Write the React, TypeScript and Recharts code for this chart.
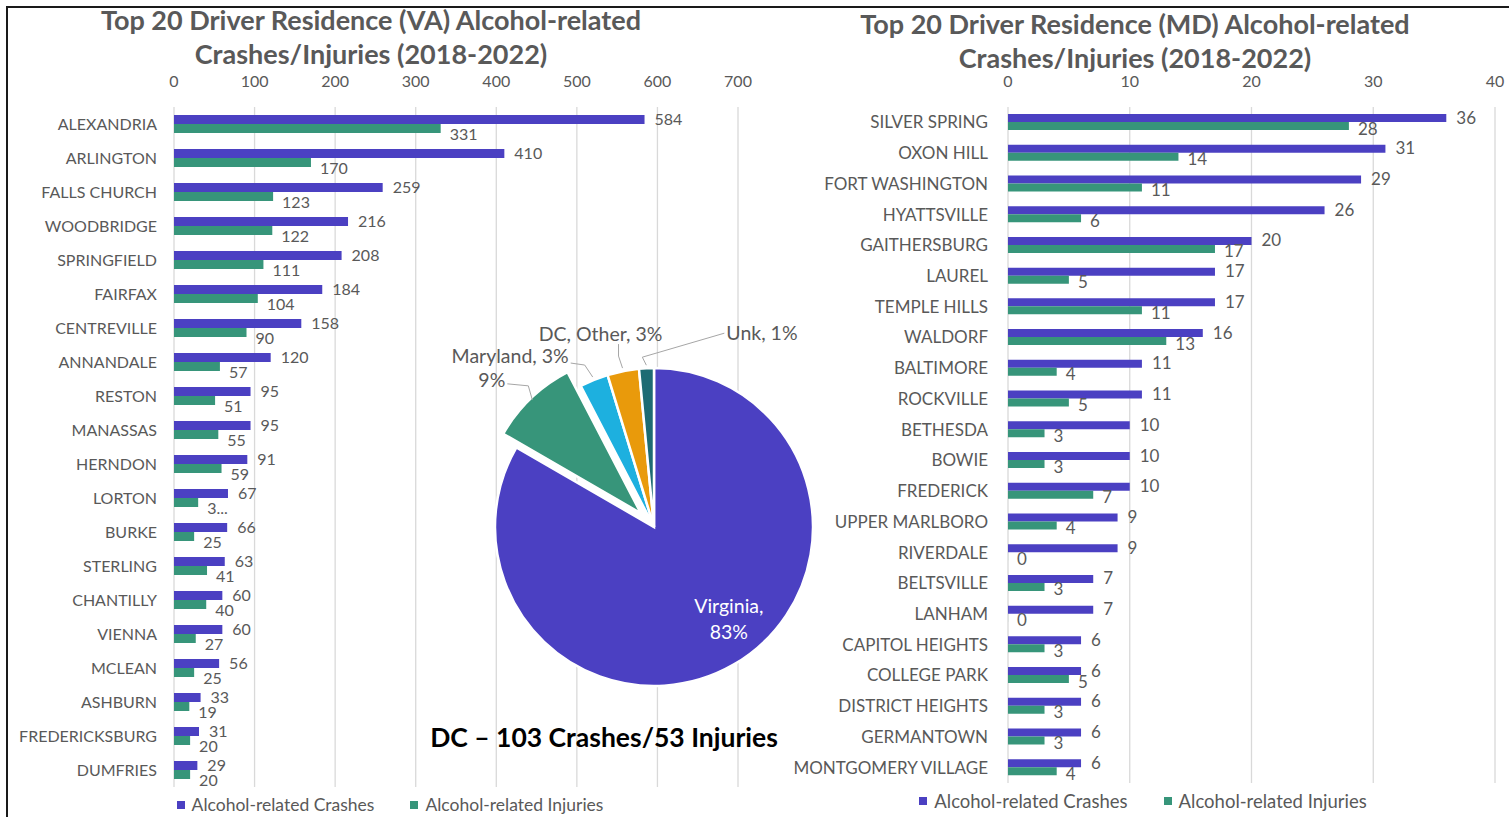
import React from 'react';
import { BarChart, Bar, XAxis, YAxis, CartesianGrid, Legend, LabelList, PieChart, Pie, Cell } from 'recharts';

const FONT = 'Lato, "Open Sans", sans-serif';
const GRAY = '#595959';
const CRASH = '#4B40C2';
const INJURY = '#37957A';
const GRID = '#D9D9D9';

// ---- Virginia (left chart) ----
const vaCities = ['ALEXANDRIA', 'ARLINGTON', 'FALLS CHURCH', 'WOODBRIDGE', 'SPRINGFIELD', 'FAIRFAX', 'CENTREVILLE', 'ANNANDALE', 'RESTON', 'MANASSAS', 'HERNDON', 'LORTON', 'BURKE', 'STERLING', 'CHANTILLY', 'VIENNA', 'MCLEAN', 'ASHBURN', 'FREDERICKSBURG', 'DUMFRIES'];
const vaCrashes = [584, 410, 259, 216, 208, 184, 158, 120, 95, 95, 91, 67, 66, 63, 60, 60, 56, 33, 31, 29];
const vaInjuries = [331, 170, 123, 122, 111, 104, 90, 57, 51, 55, 59, 30, 25, 41, 40, 27, 25, 19, 20, 20];
const vaInjuryLabelText = ['331', '170', '123', '122', '111', '104', '90', '57', '51', '55', '59', '3...', '25', '41', '40', '27', '25', '19', '20', '20'];
const vaTicks = [0, 100, 200, 300, 400, 500, 600, 700];

// ---- Maryland (right chart) ----
const mdCities = ['SILVER SPRING', 'OXON HILL', 'FORT WASHINGTON', 'HYATTSVILLE', 'GAITHERSBURG', 'LAUREL', 'TEMPLE HILLS', 'WALDORF', 'BALTIMORE', 'ROCKVILLE', 'BETHESDA', 'BOWIE', 'FREDERICK', 'UPPER MARLBORO', 'RIVERDALE', 'BELTSVILLE', 'LANHAM', 'CAPITOL HEIGHTS', 'COLLEGE PARK', 'DISTRICT HEIGHTS', 'GERMANTOWN', 'MONTGOMERY VILLAGE'];
const mdCrashes = [36, 31, 29, 26, 20, 17, 17, 16, 11, 11, 10, 10, 10, 9, 9, 7, 7, 6, 6, 6, 6, 6];
const mdInjuries = [28, 14, 11, 6, 17, 5, 11, 13, 4, 5, 3, 3, 7, 4, 0, 3, 0, 3, 5, 3, 3, 4];
const mdTicks = [0, 10, 20, 30, 40];

// ---- Pie ----
const pieNames = ['Virginia', 'Maryland', 'Other', 'DC, Other', 'Unk'];
const pieValues = [83, 9, 2.9, 3.2, 1.5];
const pieColors = ['#4B40C2', '#37957A', '#1DB0DF', '#E99A0B', '#1D6B73'];
const pieLabelLines = [['Virginia,', '83%'], ['9%'], ['Maryland, 3%'], ['DC, Other, 3%'], ['Unk, 1%']];

const seriesNames = ['Alcohol-related Crashes', 'Alcohol-related Injuries'];
const vaTitle = ['Top 20 Driver Residence (VA) Alcohol-related', 'Crashes/Injuries (2018-2022)'];
const mdTitle = ['Top 20 Driver Residence (MD) Alcohol-related', 'Crashes/Injuries (2018-2022)'];
const dcNote = 'DC \u2013 103 Crashes/53 Injuries';

const vaData = vaCities.map((city, i) => ({ city, crashes: vaCrashes[i], injuries: vaInjuries[i], injLabel: vaInjuryLabelText[i] }));
const mdData = mdCities.map((city, i) => ({ city, crashes: mdCrashes[i], injuries: mdInjuries[i], injLabel: String(mdInjuries[i]) }));
const pieData = pieNames.map((name, i) => ({ name, value: pieValues[i] }));

const makeBarLabel = (dx: number, dy: number, fontSize: number) => (props: any) => {
  const vb = props.viewBox && props.viewBox.width !== undefined ? props.viewBox : props;
  const { x, y, width, height } = vb;
  return (
    <text x={x + (width || 0) + dx} y={y + height / 2 + dy} fill={GRAY} fontSize={fontSize} fontFamily={FONT} dominantBaseline="central" textAnchor="start">
      {String(props.value)}
    </text>
  );
};

const legendContent = (gap: number, fontSize: number) => (props: any) => {
  const payload = props.payload || [];
  return (
    <div style={{ display: 'flex', justifyContent: 'center', gap, fontFamily: FONT, fontSize, color: GRAY, lineHeight: '20px' }}>
      {payload.map((p: any, i: number) => (
        <div key={i} style={{ display: 'flex', alignItems: 'center' }}>
          <span style={{ display: 'inline-block', width: 8, height: 8, background: p.color, marginRight: 7 }} />
          <span>{p.value}</span>
        </div>
      ))}
    </div>
  );
};

type HBarProps = {
  data: any[];
  left: number;
  width: number;
  height: number;
  margin: { top: number; right: number; bottom: number; left: number };
  ticks: number[];
  yWidth: number;
  yFont: number;
  yMargin: number;
  labelFont: number;
  injDy: number;
  legendFont: number;
  barSize: number;
  legendLeft: number;
  legendWidth: number;
  legendTop: number;
};

function HBar({ data, left, width, height, margin, ticks, yWidth, yFont, yMargin, labelFont, injDy, legendFont, barSize, legendLeft, legendWidth, legendTop }: HBarProps) {
  const tickStyle = { fill: GRAY, fontSize: 16, fontFamily: FONT };
  return (
    <div style={{ position: 'absolute', left, top: 0 }}>
      <BarChart width={width} height={height} data={data} layout="vertical" margin={margin} barGap={0} barCategoryGap={0}>
        <CartesianGrid horizontal={false} vertical stroke={GRID} strokeWidth={1.3} />
        <XAxis type="number" orientation="top" domain={[ticks[0], ticks[ticks.length - 1]]} ticks={ticks} interval={0} tickLine={false} axisLine={false} tickSize={0} tickMargin={20} height={30} tick={tickStyle} />
        <YAxis type="category" dataKey="city" width={yWidth} interval={0} tickLine={false} axisLine={false} tickSize={0} tickMargin={yMargin} tick={{ ...tickStyle, fontSize: yFont }} />
        <Legend verticalAlign="middle" align="center" layout="horizontal" wrapperStyle={{ top: legendTop, left: legendLeft, width: legendWidth }} content={legendContent(36, legendFont)} />
        <Bar dataKey="crashes" name={seriesNames[0]} fill={CRASH} barSize={barSize} isAnimationActive={false}>
          <LabelList dataKey="crashes" content={makeBarLabel(10, -1, labelFont)} />
        </Bar>
        <Bar dataKey="injuries" name={seriesNames[1]} fill={INJURY} barSize={barSize} minPointSize={0.05} isAnimationActive={false}>
          <LabelList dataKey="injLabel" content={makeBarLabel(9, injDy, labelFont)} />
        </Bar>
      </BarChart>
    </div>
  );
}

// label placement (style only): leader polyline offsets & text offsets
const pieLabelCfg: any[] = [
  { inside: true, r: 0.74, dx: 16, dy: -12 },
  { r0: -2, d1: [-4, -14], d2: [-21, -2], t: [-2, -4], anchor: 'end' },
  { r0: 3, d1: [-8, -12], d2: [-14, -2], t: [-2, -8], anchor: 'end' },
  { r0: 3, d1: [-4, -12], d2: [0, -12], t: [-18, -11], anchor: 'middle' },
  { r0: 3, d1: [-4, -8], d2: [82, -24], t: [2, -1], anchor: 'start' },
];
const PIE_FONT = 19.5;

const makePieLabel = (visible: number[]) => (props: any) => {
  const { cx, cy, midAngle, outerRadius, index } = props;
  if (!visible.includes(index)) return null;
  const cfg = pieLabelCfg[index];
  const RAD = Math.PI / 180;
  const pt = (r: number) => [cx + r * Math.cos(-midAngle * RAD), cy + r * Math.sin(-midAngle * RAD)];
  const lines = pieLabelLines[index];
  if (cfg.inside) {
    const [x, y] = pt(outerRadius * cfg.r);
    return (
      <text x={x + cfg.dx} y={y + cfg.dy} fill="#ffffff" fontSize={PIE_FONT} fontFamily={FONT} textAnchor="middle">
        {lines.map((l: string, i: number) => (
          <tspan key={i} x={x + cfg.dx} dy={i === 0 ? -4 : 26}>{l}</tspan>
        ))}
      </text>
    );
  }
  const p0 = pt(outerRadius + cfg.r0);
  const p1 = [p0[0] + cfg.d1[0], p0[1] + cfg.d1[1]];
  const p2 = [p1[0] + cfg.d2[0], p1[1] + cfg.d2[1]];
  return (
    <g>
      <polyline points={`${p0[0]},${p0[1]} ${p1[0]},${p1[1]} ${p2[0]},${p2[1]}`} fill="none" stroke="#A6A6A6" strokeWidth={1} />
      <text x={p2[0] + cfg.t[0]} y={p2[1] + cfg.t[1]} fill={GRAY} fontSize={PIE_FONT} fontFamily={FONT} textAnchor={cfg.anchor} dominantBaseline="central">
        {lines[0]}
      </text>
    </g>
  );
};

function PieBlock() {
  const total = pieValues.reduce((a, b) => a + b, 0);
  const explodeIndex = 1;
  const before = pieValues.slice(0, explodeIndex).reduce((a, b) => a + b, 0);
  const theta = ((before + pieValues[explodeIndex] / 2) / total) * 2 * Math.PI;
  const EXPLODE = 19;
  const size = 420;
  const c = size / 2;
  const ex = c + EXPLODE * Math.sin(theta);
  const ey = c - EXPLODE * Math.cos(theta);
  const R = 159;
  const others = pieValues.map((_, i) => i).filter((i) => i !== explodeIndex);
  return (
    <div style={{ position: 'absolute', left: 444, top: 317 }}>
      <PieChart width={size} height={size} margin={{ top: 0, right: 0, bottom: 0, left: 0 }}>
        <Pie data={pieData} dataKey="value" nameKey="name" cx={c} cy={c} outerRadius={R} startAngle={90} endAngle={-270} stroke="#ffffff" strokeWidth={2.5} isAnimationActive={false} labelLine={false} label={makePieLabel(others)}>
          {pieData.map((d, i) => (
            <Cell key={i} fill={i === explodeIndex ? 'none' : pieColors[i]} stroke={i === explodeIndex ? 'none' : '#ffffff'} />
          ))}
        </Pie>
        <Pie data={pieData} dataKey="value" nameKey="name" cx={ex} cy={ey} outerRadius={R} startAngle={90} endAngle={-270} stroke="#ffffff" strokeWidth={2.5} isAnimationActive={false} labelLine={false} label={makePieLabel([explodeIndex])}>
          {pieData.map((d, i) => (
            <Cell key={i} fill={i === explodeIndex ? pieColors[i] : 'none'} stroke={i === explodeIndex ? '#ffffff' : 'none'} />
          ))}
        </Pie>
      </PieChart>
    </div>
  );
}

const titleStyle: React.CSSProperties = {
  position: 'absolute',
  fontFamily: FONT,
  fontWeight: 700,
  fontSize: 27,
  color: GRAY,
  textAlign: 'center',
  lineHeight: '34px',
  whiteSpace: 'nowrap',
};

export default function App() {
  return (
    <div style={{ position: 'absolute', left: 0, top: 0, width: 1509, height: 817, background: '#ffffff', overflow: 'hidden' }}>
      <div style={{ position: 'absolute', left: 6, top: 6, width: 1503, height: 811, borderTop: '2px solid #1a1a1a', borderLeft: '2px solid #1a1a1a' }} />
      <div style={{ ...titleStyle, left: 71, top: 3, width: 600 }}>
        {vaTitle[0]}<br />{vaTitle[1]}
      </div>
      <div style={{ ...titleStyle, left: 835, top: 7, width: 600 }}>
        {mdTitle[0]}<br />{mdTitle[1]}
      </div>
      <HBar data={vaData} left={0} width={760} height={817} margin={{ top: 77, right: 22, bottom: 30, left: 0 }} ticks={vaTicks} yWidth={174} yFont={16} yMargin={17} labelFont={16} injDy={5} legendFont={17.5} barSize={9} legendLeft={160} legendWidth={460} legendTop={795} />
      <PieBlock />
      <HBar data={mdData} left={780} width={729} height={817} margin={{ top: 77, right: 14, bottom: 34, left: 0 }} ticks={mdTicks} yWidth={228} yFont={17} yMargin={20} labelFont={17} injDy={2} legendFont={18.5} barSize={8} legendLeft={128} legendWidth={470} legendTop={791} />
      <div style={{ position: 'absolute', left: 404, top: 720, width: 400, textAlign: 'center', fontFamily: FONT, fontWeight: 700, fontSize: 26.5, color: '#000000', whiteSpace: 'nowrap', lineHeight: '34px' }}>
        {dcNote}
      </div>
    </div>
  );
}
